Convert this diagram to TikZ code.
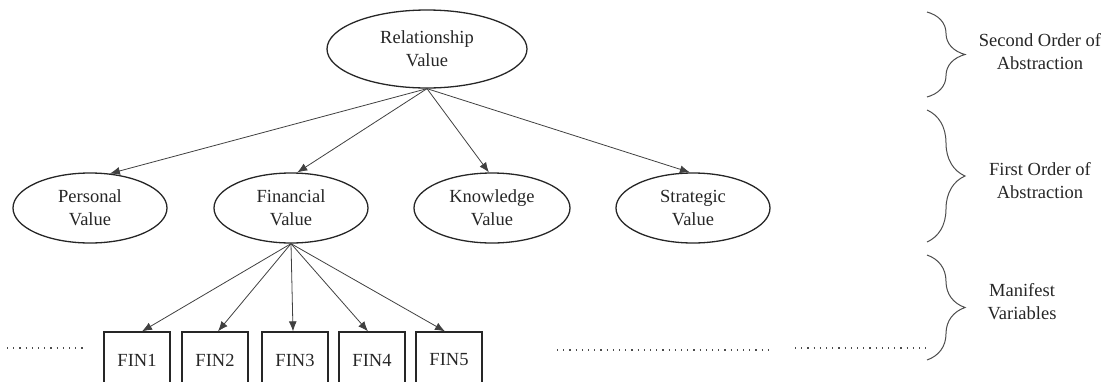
\documentclass[tikz,border=0pt]{standalone}
\usepackage{fontspec}
\setmainfont{Liberation Serif}
\usetikzlibrary{arrows.meta,shapes.geometric,decorations.pathreplacing}
\begin{document}
\begin{tikzpicture}[x=1pt,y=-1pt,
  lat/.style={ellipse,draw=black!85,line width=1.3pt,inner sep=0pt,align=center,
    font=\fontsize{18.5}{23}\selectfont,text=black!85},
  mani/.style={rectangle,draw=black!85,line width=1.3pt,inner sep=0pt,
    minimum width=66pt,minimum height=56pt,font=\fontsize{18.5}{23}\selectfont,text=black!85},
  lab/.style={align=center,font=\fontsize{18.5}{23}\selectfont,text=black!85},
  arr/.style={draw=black!75,line width=0.8pt,-{Latex[length=10pt,width=8pt]}},
  dots/.style={draw=black!70,line width=1.2pt,dash pattern=on 1.2pt off 5pt},
  brc/.style={draw=black!70,line width=1pt,decorate,decoration={brace,amplitude=38pt}}
]
\useasboundingbox (0,0) rectangle (1109,381);
\node[lat,minimum width=200pt,minimum height=78pt] (rel) at (427,49) {Relationship\\Value};
\node[lat,minimum width=154pt,minimum height=70pt] (pers) at (90,208) {Personal\\Value};
\node[lat,minimum width=154pt,minimum height=70pt] (fin) at (291,208) {Financial\\Value};
\node[lat,minimum width=156pt,minimum height=70pt] (know) at (492,208) {Knowledge\\Value};
\node[lat,minimum width=154pt,minimum height=70pt] (strat) at (693,208) {Strategic\\Value};
\node[mani] (f1) at (137,360) {FIN1};
\node[mani] (f2) at (215,360) {FIN2};
\node[mani] (f3) at (295,360) {FIN3};
\node[mani] (f4) at (372,360) {FIN4};
\node[mani] (f5) at (449,360) {FIN5};
\draw[arr] (rel.south) -- (pers.60);
\draw[arr] (rel.south) -- (fin.80);
\draw[arr] (rel.south) -- (know.95);
\draw[arr] (rel.south) -- (strat.95);
\draw[arr] (fin.south) -- ([xshift=5pt]f1.north);
\draw[arr] (fin.south) -- ([xshift=3pt]f2.north);
\draw[arr] (fin.south) -- ([xshift=-2pt]f3.north);
\draw[arr] (fin.south) -- ([xshift=-4pt]f4.north);
\draw[arr] (fin.south) -- ([xshift=-4pt]f5.north);
\coordinate (d1a) at (7,348); \coordinate (d1b) at (84,348);
\coordinate (d2a) at (557,350); \coordinate (d2b) at (771,350);
\coordinate (d3a) at (795,348); \coordinate (d3b) at (929,348);
\draw[dots] (d1a) -- (d1b);
\draw[dots] (d2a) -- (d2b);
\draw[dots] (d3a) -- (d3b);
\draw[brc] (927,12) -- (927,97);
\draw[brc] (927,110) -- (927,242);
\draw[brc] (927,255) -- (927,360);
\node[lab] (l1) at (1040,52) {Second Order of\\Abstraction};
\node[lab] (l2) at (1040,181) {First Order of\\Abstraction};
\node[lab] (l3) at (1022,302) {Manifest\\Variables};
\end{tikzpicture}
\end{document}
